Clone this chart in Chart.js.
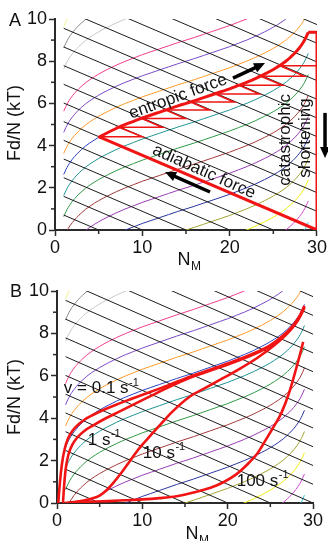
<!DOCTYPE html>
<html>
<head>
<meta charset="utf-8">
<script src="https://cdn.jsdelivr.net/npm/chart.js@4.4.1/dist/chart.umd.min.js"></script>
<style>
html,body{margin:0;padding:0;background:#fff;}
#wrap{position:relative;width:328px;height:541px;overflow:hidden;background:#fff;}
canvas{position:absolute;left:0;}
</style>
</head>
<body>
<div id="wrap">
<canvas id="chartA" width="328" height="282" style="top:0px"></canvas>
<canvas id="chartB" width="328" height="271" style="top:270px"></canvas>
</div>
<script>
// ================= DATA =================
// shape of the iso-curves (Fd/N relative offset) read along N_M
const shapeX = [1,1.25,1.5,1.75,2,2.5,3,3.5,4,5,6,7,8,9,10,11,12,13,14,15,16,17,18,19,20,21,22,23,24,25,26,26.5,27,27.5,28,28.25,28.5,28.75,29];
const shapeY = [-3.37,-3.14,-2.94,-2.78,-2.64,-2.40,-2.20,-2.02,-1.87,-1.61,-1.39,-1.19,-1.01,-0.85,-0.69,-0.55,-0.41,-0.27,-0.13,0,0.13,0.27,0.41,0.55,0.69,0.85,1.01,1.19,1.39,1.61,1.87,2.02,2.20,2.40,2.64,2.78,2.94,3.14,3.37];
// vertical offsets (kT) of the coloured iso-curves
const isoOffsets = [-3,-2,-1,0,1,2,3,4,5,6,7,8,9,11,12,13];
// black adiabatic lines: N_M where each line reaches Fd/N = 0, and their slope
const adiabatIntercepts = [5,10,15,20,25,30,35,40,45,50,55,60,65,70,75,80,85];
const adiabatSlope = 0.177;
const adiabatStartX = 1;
const adiabatEndX = 30;

// axes ticks
const xTickValues = [0,10,20,30];
const xMinorValues = [5,15,25];
const yTickValues = [0,2,4,6,8,10];
const yMinorValues = [1,3,5,7,9];

// Panel A: red cycle
const cycleCurveOffset = 6;          // follows the offset-6 iso curve
const cycleCurveStart = 5;
const cycleTopY = 9.37;
const cycleRightX = 30;
const cycleBaseX = [30, 30, 5];
const cycleBaseY = [9.37, 0, 4.42];
const sawX = [5,10,7.3,12.3,9.9,14.9,12.65,17.65,15.5,20.5,18.35,23.35,21.05,26.05,23.52,28.52,25.72,30];
const sawY = [4.42,4.42,4.87,4.87,5.29,5.29,5.685,5.685,6.067,6.067,6.45,6.45,6.855,6.855,7.29,7.29,7.79,7.79];

// Panel B: trajectories at different speeds
const v01X = [0.15,0.35,0.6,0.9,1.3,1.8,2.5,3.3,4.2,5.5,7,9,11,13,15.5,18,20.5,23,25,26.5,27.6,28.4,29];
const v01Y = [0,1.0,1.9,2.55,3.05,3.4,3.7,3.95,4.15,4.4,4.65,4.95,5.25,5.55,5.95,6.3,6.65,7.05,7.45,7.9,8.35,8.8,9.3];
const v1X = [0.7,0.85,1.05,1.35,1.8,2.4,3.2,4.2,5.5,7,9,11,13,15.5,18,20.5,23,25,26.5,27.6,28.4,29];
const v1Y = [0,0.9,1.7,2.3,2.75,3.1,3.4,3.65,3.95,4.25,4.65,5.05,5.45,5.9,6.25,6.6,7.0,7.4,7.85,8.3,8.75,9.25];
const v10X = [1.0,2,3,4,5,5.8,6.6,7.5,8.4,9.2,10,11,12,13.5,15.5,17.5,19.5,21.5,23.5,25.5,27,28.2,29];
const v10Y = [0,0.04,0.1,0.2,0.35,0.6,0.95,1.4,1.9,2.35,2.75,3.2,3.65,4.3,5.0,5.45,5.9,6.35,6.85,7.45,8.0,8.6,9.2];
const v100X = [0.9,2,4,6,8,10,12,14,16,18,19.5,21,22.5,23.5,24.5,25.5,26.3,27.2,28,28.6,28.85];
const v100Y = [0,0.03,0.06,0.09,0.13,0.17,0.23,0.32,0.5,0.72,0.98,1.35,1.9,2.35,3.0,3.67,4.25,5.2,6.3,7.2,7.6];

// ================= STYLE =================
const FONT = "'Liberation Sans', Arial, Helvetica, sans-serif";
const isoColors = ['#3cc8dc','#d04ad0','#eeee10','#a3a332','#2a34a0','#9a3cb4','#a33a3a','#2f9a45','#1f9494','#2c44c4','#ff9a2a','#7a4ac8','#f23c8e','#c8c8c8','#8a8a8a','#f4f08a'];
const AXIS = '#2a2a2a';
const RED = '#f01414';
Chart.defaults.font.family = FONT;

function pts(xs, ys, dy) { return xs.map((x, i) => ({x: x, y: ys[i] + (dy || 0)})); }

function backgroundDatasets() {
  const ds = [];
  isoOffsets.forEach((a, i) => {
    ds.push({data: pts(shapeX, shapeY, a), borderColor: isoColors[i], borderWidth: 1,
      pointRadius: 0, cubicInterpolationMode: 'monotone', order: 3});
  });
  adiabatIntercepts.forEach(c => {
    const xe = Math.min(c, adiabatEndX);
    ds.push({data: [{x: adiabatStartX, y: adiabatSlope * (c - adiabatStartX)}, {x: xe, y: adiabatSlope * (c - xe)}],
      borderColor: '#1c1c1c', borderWidth: 1, pointRadius: 0, tension: 0, order: 2});
  });
  return ds;
}

function drawArrow(ctx, x0, y0, x1, y1) {
  const ang = Math.atan2(y1 - y0, x1 - x0), hl = 11, hw = 10;
  const bx = x1 - hl * Math.cos(ang), by = y1 - hl * Math.sin(ang);
  ctx.beginPath(); ctx.moveTo(x0, y0); ctx.lineTo(bx + Math.cos(ang), by + Math.sin(ang));
  ctx.lineWidth = 3.5; ctx.strokeStyle = '#000'; ctx.lineCap = 'butt'; ctx.stroke();
  ctx.beginPath(); ctx.moveTo(x1, y1);
  ctx.lineTo(bx + hw / 2 * Math.sin(ang), by - hw / 2 * Math.cos(ang));
  ctx.lineTo(bx - hw / 2 * Math.sin(ang), by + hw / 2 * Math.cos(ang));
  ctx.closePath(); ctx.fillStyle = '#000'; ctx.fill();
}

const annotPlugin = {
  id: 'annot',
  afterDraw(chart, args, o) {
    const ctx = chart.ctx, xs = chart.scales.x, ys = chart.scales.y, ca = chart.chartArea;
    ctx.save();
    // minor ticks
    ctx.strokeStyle = AXIS; ctx.lineWidth = 1.5;
    xMinorValues.forEach(v => { const p = xs.getPixelForValue(v); ctx.beginPath(); ctx.moveTo(p, ca.bottom); ctx.lineTo(p, ca.bottom + 4); ctx.stroke(); });
    yMinorValues.forEach(v => { const p = ys.getPixelForValue(v); ctx.beginPath(); ctx.moveTo(ca.left, p); ctx.lineTo(ca.left - 4, p); ctx.stroke(); });
    // arrows
    (o.arrows || []).forEach(a => drawArrow(ctx, xs.getPixelForValue(a.x0), ys.getPixelForValue(a.y0), xs.getPixelForValue(a.x1), ys.getPixelForValue(a.y1)));
    // texts
    ctx.fillStyle = '#111';
    (o.texts || []).forEach(t => {
      const px = xs.getPixelForValue(t.x), py = ys.getPixelForValue(t.y);
      ctx.save();
      ctx.translate(px, py);
      ctx.rotate((t.rot || 0) * Math.PI / 180);
      ctx.font = '17px ' + FONT;
      ctx.textBaseline = 'middle';
      if (t.sup) {
        ctx.textAlign = 'left';
        ctx.fillText(t.text, 0, 0);
        const w = ctx.measureText(t.text).width;
        ctx.font = '11px ' + FONT;
        ctx.fillText(t.sup, w + 0.5, -6);
      } else {
        ctx.textAlign = 'center';
        ctx.fillText(t.text, 0, 0);
      }
      ctx.restore();
    });
    // axis titles
    ctx.fillStyle = '#111';
    ctx.save();
    ctx.translate(o.yTitle.x, o.yTitle.y);
    ctx.rotate(-Math.PI / 2);
    ctx.font = '18px ' + FONT; ctx.textAlign = 'center'; ctx.textBaseline = 'middle';
    ctx.fillText('Fd/N (kT)', 0, 0);
    ctx.restore();
    ctx.font = '18px ' + FONT; ctx.textAlign = 'center'; ctx.textBaseline = 'alphabetic';
    ctx.fillText('N', o.xTitle.x, o.xTitle.y);
    const nw = ctx.measureText('N').width;
    ctx.font = '12px ' + FONT; ctx.textAlign = 'left';
    ctx.fillText('M', o.xTitle.x + nw / 2 + 0.5, o.xTitle.y + 5);
    // panel letter
    ctx.font = '18px ' + FONT; ctx.textAlign = 'left'; ctx.textBaseline = 'middle';
    ctx.fillText(o.letter.t, o.letter.x, o.letter.y);
    ctx.restore();
  }
};

function makeChart(id, W, H, area, datasets, annot) {
  return new Chart(document.getElementById(id), {
    type: 'line',
    data: {datasets: datasets},
    options: {
      responsive: false, animation: false, devicePixelRatio: 1,
      parsing: true, normalized: true,
      layout: {padding: {left: 0, right: W - area.right, top: area.top, bottom: 0}},
      plugins: {legend: {display: false}, tooltip: {enabled: false}, annot: annot},
      scales: {
        x: {type: 'linear', min: 0, max: 30,
          afterFit: s => { s.height = H - area.bottom; },
          afterBuildTicks: s => { s.ticks = xTickValues.map(v => ({value: v})); },
          ticks: {font: {size: 18, family: FONT}, color: '#111', padding: 1, maxRotation: 0, autoSkip: false},
          grid: {drawOnChartArea: false, drawTicks: true, tickLength: 6, tickWidth: 1.5, tickColor: AXIS},
          border: {display: true, color: AXIS, width: 2}},
        y: {type: 'linear', min: 0, max: 10,
          afterFit: s => { s.width = area.left; },
          afterBuildTicks: s => { s.ticks = yTickValues.map(v => ({value: v})); },
          ticks: {font: {size: 18, family: FONT}, color: '#111', padding: 2, autoSkip: false},
          grid: {drawOnChartArea: false, drawTicks: true, tickLength: 6, tickWidth: 1.5, tickColor: AXIS},
          border: {display: true, color: AXIS, width: 2}}
      }
    },
    plugins: [annotPlugin]
  });
}

// ----- Panel A -----
const edgeX = shapeX.filter(x => x >= cycleCurveStart);
const edgeY = shapeY.filter((y, i) => shapeX[i] >= cycleCurveStart);
const dsA = backgroundDatasets().concat([
  {data: pts(sawX, sawY), borderColor: RED, borderWidth: 1.5, pointRadius: 0, tension: 0, order: 1},
  {data: pts(edgeX, edgeY, cycleCurveOffset), borderColor: RED, borderWidth: 3, pointRadius: 0, cubicInterpolationMode: 'monotone', order: 0},
  {data: [{x: edgeX[edgeX.length - 1], y: cycleTopY}].concat(pts(cycleBaseX, cycleBaseY)), borderColor: RED, borderWidth: 3, pointRadius: 0, tension: 0, order: 0, borderJoinStyle: 'miter'}
]);
makeChart('chartA', 328, 282, {left: 55, right: 317, top: 19, bottom: 230}, dsA, {
  texts: [
    {text: 'entropic force', x: 14.1, y: 6.32, rot: -20},
    {text: 'adiabatic force', x: 17.06, y: 2.76, rot: 24},
    {text: 'catastrophic', x: 26.34, y: 4.27, rot: -90},
    {text: 'shortening', x: 28.63, y: 4.36, rot: -90}
  ],
  arrows: [
    {x0: 20.38, y0: 7.2, x1: 24.05, y1: 7.91},
    {x0: 17.75, y0: 1.8, x1: 12.6, y1: 2.75},
    {x0: 30.92, y0: 5.55, x1: 30.92, y1: 3.41}
  ],
  yTitle: {x: 15, y: 123}, xTitle: {x: 184, y: 265}, letter: {t: 'A', x: 9, y: 21}
});

// ----- Panel B -----
const dsB = backgroundDatasets().concat([
  {data: pts(v01X, v01Y), borderColor: RED, borderWidth: 2.6, pointRadius: 0, cubicInterpolationMode: 'monotone', order: 0},
  {data: pts(v1X, v1Y), borderColor: RED, borderWidth: 2.6, pointRadius: 0, cubicInterpolationMode: 'monotone', order: 0},
  {data: pts(v10X, v10Y), borderColor: RED, borderWidth: 2.6, pointRadius: 0, cubicInterpolationMode: 'monotone', order: 0},
  {data: pts(v100X, v100Y), borderColor: RED, borderWidth: 2.6, pointRadius: 0, cubicInterpolationMode: 'monotone', order: 0}
]);
makeChart('chartB', 328, 271, {left: 57, right: 313, top: 21, bottom: 233}, dsB, {
  texts: [
    {text: 'v = 0.1 s', sup: '-1', x: 0.8, y: 5.4},
    {text: '1 s', sup: '-1', x: 3.6, y: 2.96},
    {text: '10 s', sup: '-1', x: 10.05, y: 2.34},
    {text: '100 s', sup: '-1', x: 21.06, y: 1.02}
  ],
  arrows: [],
  yTitle: {x: 15, y: 127}, xTitle: {x: 192, y: 269}, letter: {t: 'B', x: 10, y: 22}
});
</script>
</body>
</html>
